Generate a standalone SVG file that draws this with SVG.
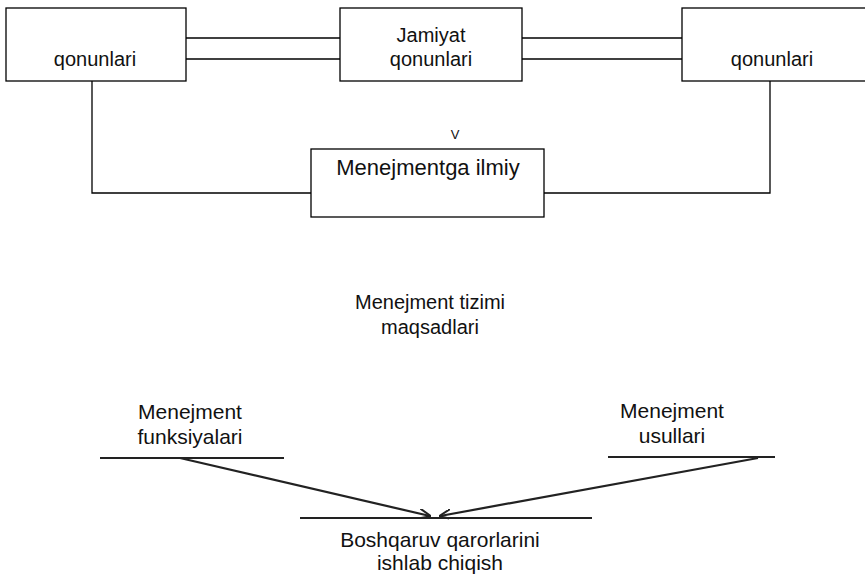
<svg xmlns="http://www.w3.org/2000/svg" width="865" height="575" viewBox="0 0 865 575">
<style>
.box{fill:#fff;stroke:#000;stroke-width:1.3}
.ln{fill:none;stroke:#000;stroke-width:1.3}
.sc{fill:none;stroke:#222;stroke-width:2.2}
.t{font-family:"Liberation Sans",Arial,sans-serif;font-size:20px;fill:#111;text-anchor:middle}
.n{font-family:"Liberation Sans",Arial,sans-serif;font-size:21px;fill:#111;text-anchor:middle}
.b{font-family:"Liberation Sans",Arial,sans-serif;font-size:22px;fill:#111;text-anchor:middle}
.s{font-family:"Liberation Sans",Arial,sans-serif;font-size:13px;fill:#111;text-anchor:middle}
</style>
<defs>
<marker id="ah" viewBox="0 0 12 10" refX="11" refY="5" markerWidth="12" markerHeight="10" markerUnits="userSpaceOnUse" orient="auto">
<path d="M0,0 L12,5 L0,10" fill="none" stroke="#222" stroke-width="2"/>
</marker>
</defs>
<rect width="865" height="575" fill="#fff"/>
<g id="connectors">
<line class="ln" x1="186" y1="38" x2="340" y2="38"/>
<line class="ln" x1="186" y1="59" x2="340" y2="59"/>
<line class="ln" x1="522" y1="38" x2="682" y2="38"/>
<line class="ln" x1="522" y1="59" x2="682" y2="59"/>
<polyline class="ln" points="92,81 92,193 311,193"/>
<polyline class="ln" points="770,81 770,193 544,193"/>
<line class="sc" x1="180" y1="458" x2="430" y2="516" marker-end="url(#ah)"/>
<line class="sc" x1="758" y1="458" x2="440" y2="516" marker-end="url(#ah)"/>
</g>
<g id="node-left">
<rect class="box" x="6" y="8" width="180" height="73"/>
<text class="t" x="95" y="66">qonunlari</text>
</g>
<g id="node-center">
<rect class="box" x="340" y="8" width="182" height="73"/>
<text class="t" x="431" y="42">Jamiyat</text>
<text class="t" x="431" y="66">qonunlari</text>
</g>
<g id="node-right">
<rect class="box" x="682" y="8" width="190" height="73"/>
<text class="t" x="772" y="66">qonunlari</text>
</g>
<g id="node-ilmiy">
<text class="s" x="455" y="139">V</text>
<rect class="box" x="311" y="149" width="233" height="68"/>
<text class="b" x="428" y="175">Menejmentga ilmiy</text>
</g>
<g id="node-maqsad">
<text class="t" x="430" y="309">Menejment tizimi</text>
<text class="t" x="430" y="334">maqsadlari</text>
</g>
<g id="node-funksiya">
<text class="n" x="190" y="419">Menejment</text>
<text class="n" x="190" y="444">funksiyalari</text>
<line class="sc" x1="100" y1="458" x2="284" y2="458"/>
</g>
<g id="node-usul">
<text class="n" x="672" y="418">Menejment</text>
<text class="n" x="672" y="443">usullari</text>
<line class="sc" x1="608" y1="457" x2="775" y2="457"/>
</g>
<g id="node-qaror">
<line class="sc" x1="300" y1="518" x2="592" y2="518"/>
<text class="n" x="440" y="547">Boshqaruv qarorlarini</text>
<text class="n" x="440" y="570">ishlab chiqish</text>
</g>
</svg>
